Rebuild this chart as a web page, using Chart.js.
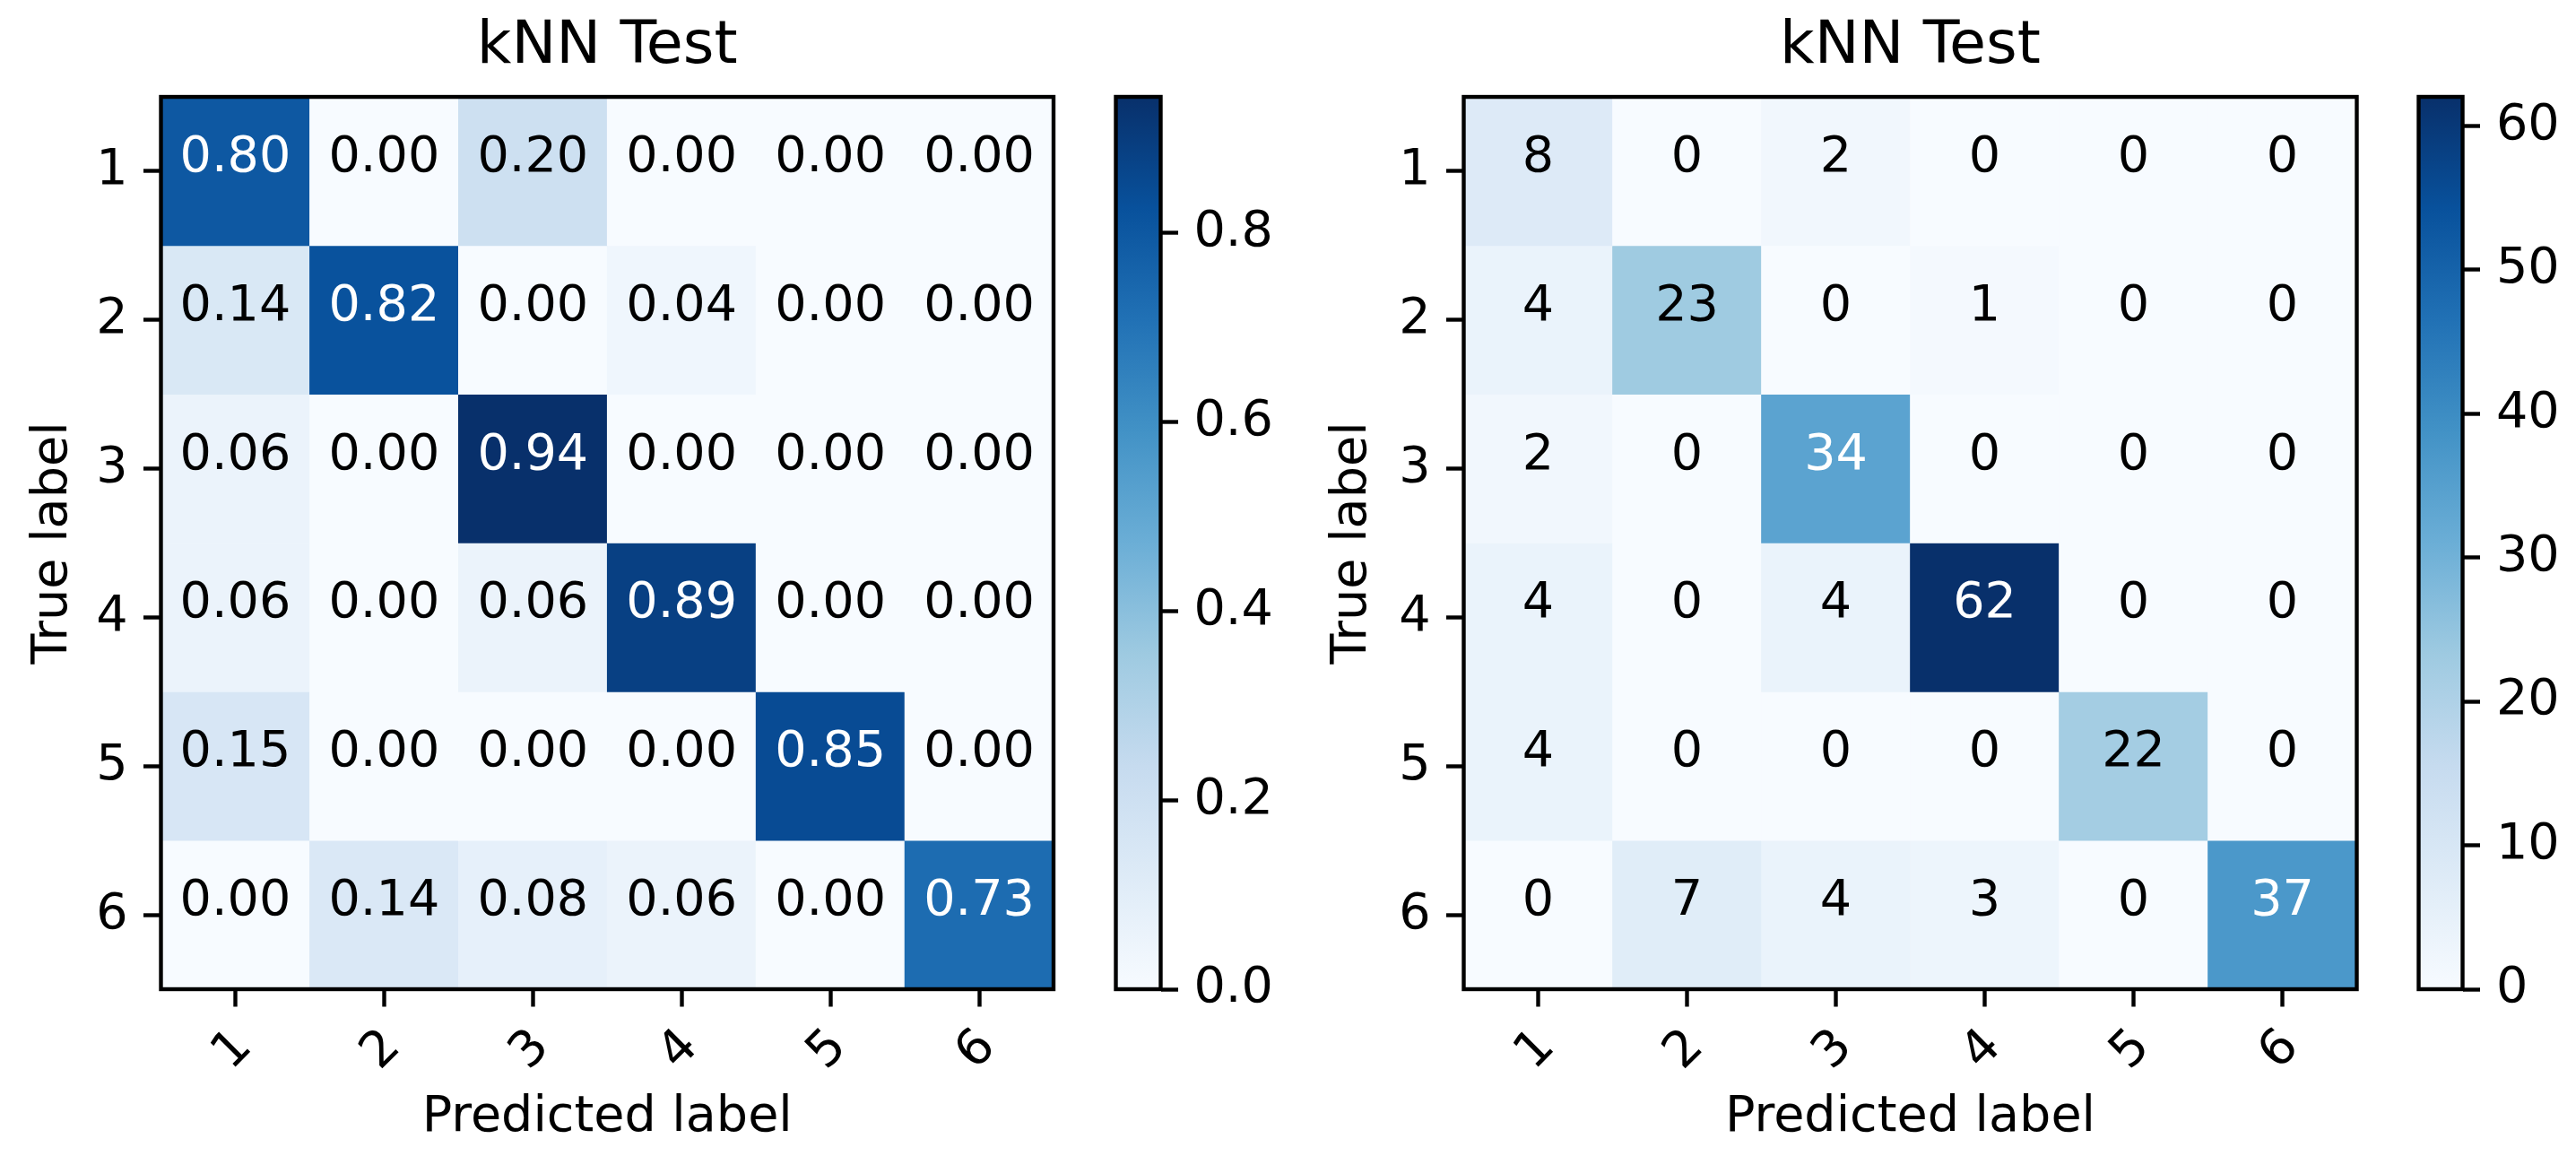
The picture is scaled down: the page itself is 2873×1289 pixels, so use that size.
<!DOCTYPE html>
<html>
<head>
<meta charset="utf-8">
<title>kNN Test</title>
<script src="https://cdn.jsdelivr.net/npm/chart.js@4.4.1/dist/chart.umd.min.js"></script>
<style>
  html, body { margin: 0; padding: 0; background: #fff; }
  #wrap { position: relative; width: 2873px; height: 1289px; overflow: hidden; }
  canvas { position: absolute; top: 0; }
</style>
</head>
<body>
<div id="wrap">
  <canvas id="cmNorm" width="1220" height="1289" style="left:0px"></canvas>
  <canvas id="cbNorm" width="230" height="1289" style="left:1220px"></canvas>
  <canvas id="cmCount" width="1220" height="1289" style="left:1450px"></canvas>
  <canvas id="cbCount" width="203" height="1289" style="left:2670px"></canvas>
</div>
<script>
const classLabels = ['1', '2', '3', '4', '5', '6'];
const chartTitle = 'kNN Test';
const xTitle = 'Predicted label';
const yTitle = 'True label';

// left: normalised per true label
const normRow1 = [0.800, 0.000, 0.200, 0.000, 0.000, 0.000];
const normRow2 = [0.143, 0.821, 0.000, 0.036, 0.000, 0.000];
const normRow3 = [0.056, 0.000, 0.944, 0.000, 0.000, 0.000];
const normRow4 = [0.057, 0.000, 0.057, 0.886, 0.000, 0.000];
const normRow5 = [0.154, 0.000, 0.000, 0.000, 0.846, 0.000];
const normRow6 = [0.000, 0.137, 0.078, 0.059, 0.000, 0.726];

// right: raw counts
const countRow1 = [8, 0, 2, 0, 0, 0];
const countRow2 = [4, 23, 0, 1, 0, 0];
const countRow3 = [2, 0, 34, 0, 0, 0];
const countRow4 = [4, 0, 4, 62, 0, 0];
const countRow5 = [4, 0, 0, 0, 22, 0];
const countRow6 = [0, 7, 4, 3, 0, 37];

const normTicks = [0, 0.2, 0.4, 0.6, 0.8];
const countTicks = [0, 10, 20, 30, 40, 50, 60];

const normMatrix = [normRow1, normRow2, normRow3, normRow4, normRow5, normRow6];
const countMatrix = [countRow1, countRow2, countRow3, countRow4, countRow5, countRow6];

// matplotlib "Blues"
const bluesStops = ['#f7fbff', '#deebf7', '#c6dbef', '#9ecae1', '#6baed6', '#4292c6', '#2171b5', '#08519c', '#08306b'];
const FONT = "'DejaVu Sans'";
const SMALL = 55.6;
const BIG = 66.7;
const TICK_LEN = 19.5;
const LINE_W = 4.4;

function hexToRgb(h) {
    return [parseInt(h.slice(1, 3), 16), parseInt(h.slice(3, 5), 16), parseInt(h.slice(5, 7), 16)];
}
const bluesRgb = bluesStops.map(hexToRgb);

function blues(t) {
    t = Math.max(0, Math.min(1, t));
    const p = t * (bluesRgb.length - 1);
    const i = Math.min(Math.floor(p), bluesRgb.length - 2);
    const f = p - i;
    const a = bluesRgb[i], b = bluesRgb[i + 1];
    const c = a.map((v, k) => Math.round(v + (b[k] - v) * f));
    return `rgb(${c[0]},${c[1]},${c[2]})`;
}

// box round the plot area, like matplotlib spines
const framePlugin = {
    id: 'frame',
    afterDraw(chart) {
        const a = chart.chartArea;
        const ctx = chart.ctx;
        ctx.save();
        ctx.strokeStyle = '#000';
        ctx.lineWidth = LINE_W;
        ctx.strokeRect(a.left, a.top, a.right - a.left, a.bottom - a.top);
        ctx.restore();
    }
};

function makeHeatmap(id, matrix, fmt, box) {
    const vmax = Math.max(...matrix.flat());

    const cellText = {
        id: 'cellText',
        afterDatasetsDraw(chart) {
            const ctx = chart.ctx;
            const xs = chart.scales.x, ys = chart.scales.y;
            ctx.save();
            ctx.font = `normal ${SMALL}px ${FONT}`;
            ctx.textAlign = 'center';
            ctx.textBaseline = 'alphabetic';
            matrix.forEach((row, r) => {
                row.forEach((v, c) => {
                    ctx.fillStyle = v > vmax / 2 ? '#ffffff' : '#000000';
                    ctx.fillText(fmt(v), xs.getPixelForValue(c), ys.getPixelForValue(r + 1));
                });
            });
            ctx.restore();
        }
    };

    const datasets = matrix.map((row, r) => ({
        label: classLabels[r],
        data: row.map(() => [r + 0.5, r + 1.5]),
        backgroundColor: row.map(v => blues(v / vmax)),
        borderWidth: 0,
        grouped: false,
        categoryPercentage: 1,
        barPercentage: 1
    }));

    return new Chart(document.getElementById(id), {
        type: 'bar',
        data: { labels: classLabels, datasets: datasets },
        options: {
            responsive: false,
            animation: false,
            devicePixelRatio: 1,
            layout: { padding: { left: 0, top: 0, right: box.padRight, bottom: 0 } },
            plugins: {
                legend: { display: false },
                tooltip: { enabled: false },
                title: {
                    display: true,
                    text: chartTitle,
                    fullSize: false,
                    color: '#000',
                    font: { family: FONT, size: BIG, weight: 'normal' },
                    padding: { top: 12.7, bottom: 15.3 }
                }
            },
            scales: {
                x: {
                    type: 'category',
                    offset: true,
                    border: { display: false },
                    grid: {
                        display: true, offset: false, drawOnChartArea: false,
                        drawTicks: true, tickLength: TICK_LEN, tickWidth: LINE_W, tickColor: '#000'
                    },
                    ticks: {
                        autoSkip: false, minRotation: 45, maxRotation: 45,
                        padding: 13, labelOffset: 10,
                        color: '#000', font: { family: FONT, size: SMALL }
                    },
                    title: {
                        display: true, text: xTitle, color: '#000',
                        font: { family: FONT, size: SMALL },
                        padding: { top: 0, bottom: 8.8 }
                    },
                    afterFit: s => { s.height = 186; }
                },
                y: {
                    type: 'linear',
                    min: 0.5,
                    max: 6.5,
                    reverse: true,
                    border: { display: false },
                    grid: {
                        display: true, drawOnChartArea: false,
                        drawTicks: true, tickLength: TICK_LEN, tickWidth: LINE_W, tickColor: '#000'
                    },
                    ticks: {
                        padding: 17.5, color: '#000', font: { family: FONT, size: SMALL },
                        callback: v => classLabels[v - 1]
                    },
                    title: {
                        display: true, text: yTitle, color: '#000',
                        font: { family: FONT, size: SMALL },
                        padding: { top: box.yTitlePad, bottom: 0 }
                    },
                    afterBuildTicks: s => { s.ticks = classLabels.map((_, i) => ({ value: i + 1 })); },
                    afterFit: s => { s.width = box.axisWidth; }
                }
            }
        },
        plugins: [cellText, framePlugin]
    });
}

function makeColorbar(id, matrix, tickVals, fmt, box) {
    const vmax = Math.max(...matrix.flat());
    return new Chart(document.getElementById(id), {
        type: 'bar',
        data: {
            labels: [''],
            datasets: [{
                data: [[0, vmax]],
                borderWidth: 0,
                categoryPercentage: 1,
                barPercentage: 1,
                backgroundColor: ctx => {
                    const area = ctx.chart.chartArea;
                    if (!area) return bluesStops[0];
                    const g = ctx.chart.ctx.createLinearGradient(0, area.bottom, 0, area.top);
                    bluesStops.forEach((c, i) => g.addColorStop(i / (bluesStops.length - 1), c));
                    return g;
                }
            }]
        },
        options: {
            responsive: false,
            animation: false,
            devicePixelRatio: 1,
            layout: { padding: { left: box.padLeft, right: 0, top: 108, bottom: 186 } },
            plugins: { legend: { display: false }, tooltip: { enabled: false } },
            scales: {
                x: { display: false },
                y: {
                    position: 'right',
                    min: 0,
                    max: vmax,
                    border: { display: false },
                    grid: {
                        display: true, drawOnChartArea: false,
                        drawTicks: true, tickLength: TICK_LEN, tickWidth: LINE_W, tickColor: '#000'
                    },
                    ticks: {
                        padding: box.tickPad, color: '#000', font: { family: FONT, size: SMALL },
                        callback: v => fmt(v)
                    },
                    afterBuildTicks: s => { s.ticks = tickVals.map(v => ({ value: v })); },
                    afterFit: s => { s.width = box.axisWidth; }
                }
            }
        },
        plugins: [framePlugin]
    });
}

makeHeatmap('cmNorm', normMatrix, v => v.toFixed(2), { padRight: 45, axisWidth: 179.5, yTitlePad: 26 });
makeColorbar('cbNorm', normMatrix, normTicks, v => v.toFixed(1), { padLeft: 24.5, axisWidth: 155.5, tickPad: 17.5 });
makeHeatmap('cmCount', countMatrix, v => String(v), { padRight: 41.5, axisWidth: 182.5, yTitlePad: 25.5 });
makeColorbar('cbCount', countMatrix, countTicks, v => String(v), { padLeft: 27.5, axisWidth: 126.5, tickPad: 18 });
</script>
</body>
</html>
